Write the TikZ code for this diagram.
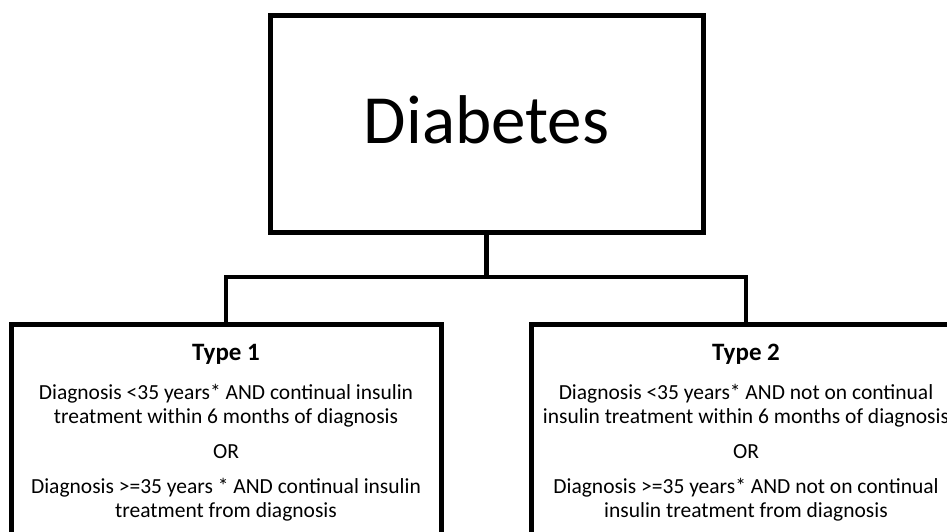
\documentclass[tikz,border=0pt]{standalone}
\usepackage{fontspec}
\setmainfont{Carlito}

\begin{document}
\begin{tikzpicture}[x=1pt,y=-1pt]

      \useasboundingbox (0,0) rectangle (947,531);

      \begin{scope}[every node/.style={rectangle,draw,line width=5pt,inner sep=0pt}]
        \node (diabetes) at (486.5,123.5) [minimum width=433pt,minimum height=217pt,text depth=8pt]
          {\fontsize{69}{80}\selectfont Diabetes};
        \node (type1) at (226,322) [anchor=north,minimum width=430pt,minimum height=260pt] {};
        \node (type2) at (746,322) [anchor=north,minimum width=430pt,minimum height=260pt] {};
      \end{scope}

      \begin{scope}[every node/.style={anchor=north,align=center,inner sep=0pt,
          font=\fontsize{21.5}{24}\selectfont}]
        \node (type1text) at (226,344)
          {{\fontsize{25}{24}\selectfont\bfseries Type 1}\\[15pt]
           Diagnosis <35 years* AND continual insulin\\
           treatment within 6 months of diagnosis\\[11pt]
           OR\\[11pt]
           Diagnosis >=35 years * AND continual insulin\\
           treatment from diagnosis};
        \node (type2text) at (746,344)
          {{\fontsize{25}{24}\selectfont\bfseries Type 2}\\[15pt]
           Diagnosis <35 years* AND not on continual\\
           insulin treatment within 6 months of diagnosis\\[11pt]
           OR\\[11pt]
           Diagnosis >=35 years* AND not on continual\\
           insulin treatment from diagnosis};
      \end{scope}

      \coordinate (split) at (486.5,277);

      \begin{scope}[line width=4.5pt]
        \draw (diabetes.south) -- (split);
        \draw (type1.north) |- (split) -| (type2.north);
      \end{scope}

    \end{tikzpicture}
\end{document}
